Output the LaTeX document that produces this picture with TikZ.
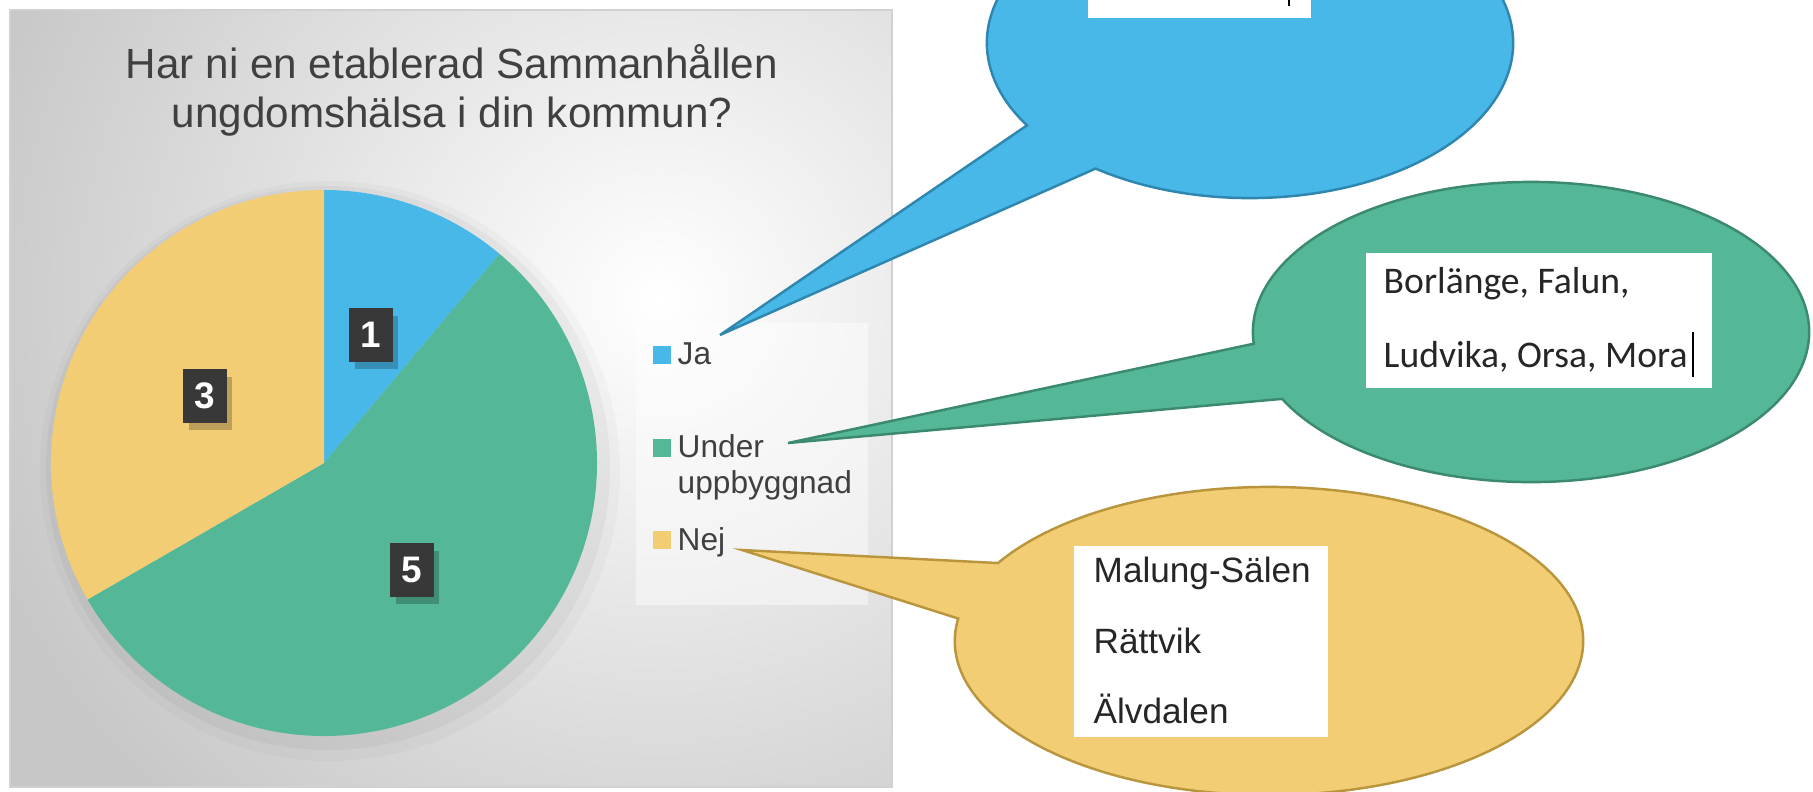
\documentclass[tikz,border=0pt]{standalone}
\usepackage{fontspec}
\setmainfont{Liberation Sans}
\newfontfamily\calibrifont{Carlito}
\usepackage{tikz}
\usetikzlibrary{shapes.callouts}
\usetikzlibrary{shadows}

\definecolor{jablue}{HTML}{47B8E8}
\definecolor{jaedge}{HTML}{2F87AF}
\definecolor{undergreen}{HTML}{54B798}
\definecolor{underedge}{HTML}{3B8A6F}
\definecolor{nejyellow}{HTML}{F2CD73}
\definecolor{nejedge}{HTML}{B9963D}

\tikzset{
  titletext/.style={anchor=base, inner sep=0pt, text=black!75, font=\fontsize{12}{14}\selectfont},
  slicelabel/.style={fill=black!78, text=white, font=\bfseries\fontsize{10.5}{12}\selectfont,
    minimum width=0.43cm, minimum height=0.53cm, inner sep=0pt,
    drop shadow={shadow xshift=1.5pt, shadow yshift=-2pt, opacity=0.22, fill=black}},
  legkey/.style={anchor=north west, minimum size=0.18cm, inner sep=0pt},
  legtext/.style={anchor=base west, inner sep=0pt, text=black!75, font=\fontsize{9}{10.3}\selectfont},
  balloon/.style={ellipse callout, callout pointer arc=22, line width=0.7pt, inner sep=0pt},
  listbox/.style={fill=white, inner sep=0pt, anchor=north west},
  listtext/.style={anchor=base west, inner sep=0pt, text=black!85, font=\fontsize{10}{12}\selectfont}
}

\begin{document}
\begin{tikzpicture}[x=0.01cm, y=-0.01cm]
  \useasboundingbox (0,0) rectangle (1813,791);
  \clip (0,0) rectangle (1813,791);
  \fill[white] (0,0) rectangle (1813,791);

  % Chart area with its gradient
  \begin{scope}
    \clip (10,10) rectangle (892,787);
    \fill[black!22] (10,10) rectangle (892,787);
    \shade[inner color=white, outer color=black!22] (660,300) ellipse[x radius=720, y radius=700];
  \end{scope}
  \draw[black!18, line width=0.8pt] (10,10) rectangle (892,787);

  % Title
  \node[titletext] (title1) at (452,79) {Har ni en etablerad Sammanhållen};
  \node[titletext] (title2) at (452,127) {ungdomshälsa i din kommun?};

  % Pie
  \coordinate (piecenter) at (324,463);
  \fill[black, opacity=0.025] (330,471) circle[radius=290];
  \fill[black, opacity=0.035] (328,468) circle[radius=282];
  \fill[jablue] (piecenter) -- ++(-90:273) arc[start angle=-90, end angle=-50, radius=273] -- cycle;
  \fill[undergreen] (piecenter) -- ++(-50:273) arc[start angle=-50, end angle=150, radius=273] -- cycle;
  \fill[nejyellow] (piecenter) -- ++(150:273) arc[start angle=150, end angle=270, radius=273] -- cycle;

  % Data labels
  \node[slicelabel] (jacount) at (371,335) {1};
  \node[slicelabel] (nejcount) at (205,396) {3};
  \node[slicelabel] (undercount) at (412,570) {5};

  % Legend
  \fill[white, opacity=0.45] (636,323) rectangle (868,605);
  \node[legkey, fill=jablue] (jakey) at (652,345) {};
  \node[legtext] (jatext) at (677,364) {Ja};
  \node[legkey, fill=undergreen] (underkey) at (652,438) {};
  \node[legtext] (undertext) at (677,457) {Under};
  \node[legtext] (undertext2) at (677,493) {uppbyggnad};
  \node[legkey, fill=nejyellow] (nejkey) at (652,530) {};
  \node[legtext] (nejtext) at (677,550) {Nej};

  % Callouts
  \coordinate (jatip) at (720,335);
  \coordinate (undertip) at (788,443);
  \coordinate (nejtip) at (742,550);
  \node[balloon, fill=jablue, draw=jaedge, minimum width=5.26cm, minimum height=3.1cm,
    callout absolute pointer=(jatip)] (jaballoon) at (1250,43) {};
  \node[balloon, fill=undergreen, draw=underedge, minimum width=5.56cm, minimum height=3.0cm,
    callout absolute pointer=(undertip)] (underballoon) at (1531,332) {};
  \node[balloon, fill=nejyellow, draw=nejedge, minimum width=6.28cm, minimum height=3.08cm,
    callout absolute pointer=(nejtip)] (nejballoon) at (1269,641) {};

  % Text boxes in the callouts
  \node[listbox, anchor=south west, minimum width=2.23cm, minimum height=0.9cm] (jabox) at (1087,19) {};
  \draw[line width=0.5pt] (1289,-2) -- (1289,6);

  \node[listbox, minimum width=3.46cm, minimum height=1.35cm] (underbox) at (1365,252) {};
  \node[listtext, font=\calibrifont\fontsize{10.7}{12}\selectfont] (underline1) at (1383,293) {Borlänge, Falun,};
  \node[listtext, font=\calibrifont\fontsize{10.7}{12}\selectfont] (underline2) at (1383,367) {Ludvika, Orsa, Mora};
  \draw[line width=0.5pt] (1693,332) -- (1693,377);

  \node[listbox, minimum width=2.54cm, minimum height=1.91cm] (nejbox) at (1073,545) {};
  \node[listtext] (nejline1) at (1093,582) {Malung-Sälen};
  \node[listtext] (nejline2) at (1093,653) {Rättvik};
  \node[listtext] (nejline3) at (1093,723) {Älvdalen};
\end{tikzpicture}
\end{document}
